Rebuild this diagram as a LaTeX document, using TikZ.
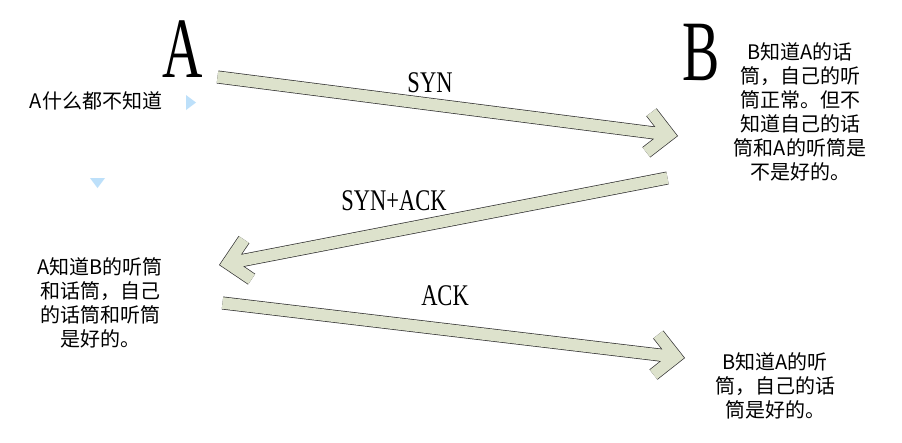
\documentclass[tikz,border=0pt]{standalone}
\usepackage{fontspec}
\usetikzlibrary{calc}
\setmainfont{Noto Sans CJK SC}
\newfontfamily\narrowserif[FakeStretch=0.75]{Liberation Serif}
\newfontfamily\tallserif[FakeStretch=0.65]{Liberation Serif}
\definecolor{arrowfill}{RGB}{221,226,204}
\definecolor{markblue}{RGB}{189,224,250}
\tikzset{
  msg/.style={draw=arrowfill, line width=11.6pt, preaction={draw=black!80, line width=13pt}},
  msglabel/.style={font=\narrowserif\fontsize{30}{30}\selectfont, anchor=base, inner sep=0pt},
  side/.style={font=\tallserif\fontsize{86}{86}\selectfont, anchor=base, inner sep=0pt},
  note/.style={font=\fontsize{20}{24}\selectfont, align=center, inner sep=0pt}
}
\newcommand{\msgarrow}[2]{%
  \coordinate (tc) at ($(#2)!9.2pt!(#1)$);
  \draw[msg] (#1) -- (tc) ($(tc)!28.5pt!45:(#1)$) -- (tc) -- ($(tc)!28.5pt!-45:(#1)$);
}

\begin{document}
\begin{tikzpicture}[x=1pt, y=-1pt]
  \useasboundingbox[fill=white] (0,0) rectangle (902,442);

  \node[side] (sideA) at (182.5,77) {A};
  \node[side] (sideB) at (701,80) {B};

  \node[note] (Ainit) at (96,101) {A什么都不知道};
  \node[note] (Bsyn) at (800,112) {B知道A的话\\筒，自己的听\\筒正常。但不\\知道自己的话\\筒和A的听筒是\\不是好的。};
  \node[note] (Asynack) at (100,303) {A知道B的听筒\\和话筒，自己\\的话筒和听筒\\是好的。};
  \node[note] (Back) at (775,386) {B知道A的听\\筒，自己的话\\筒是好的。};

  \fill[markblue] (186,95) -- (196,102.5) -- (186,110) -- cycle;
  \fill[markblue] (90,178) -- (105,178) -- (97.5,188) -- cycle;

  \coordinate (synS) at (217.5,77);
  \coordinate (synE) at (678,136);
  \coordinate (synackS) at (667.5,178);
  \coordinate (synackE) at (219,265);
  \coordinate (ackS) at (222.5,303);
  \coordinate (ackE) at (685,358);

  \msgarrow{synS}{synE}
  \msgarrow{synackS}{synackE}
  \msgarrow{ackS}{ackE}

  \node[msglabel] (syn) at (430,92) {SYN};
  \node[msglabel] (synack) at (394,210) {SYN+ACK};
  \node[msglabel] (ack) at (445,305) {ACK};
\end{tikzpicture}
\end{document}
